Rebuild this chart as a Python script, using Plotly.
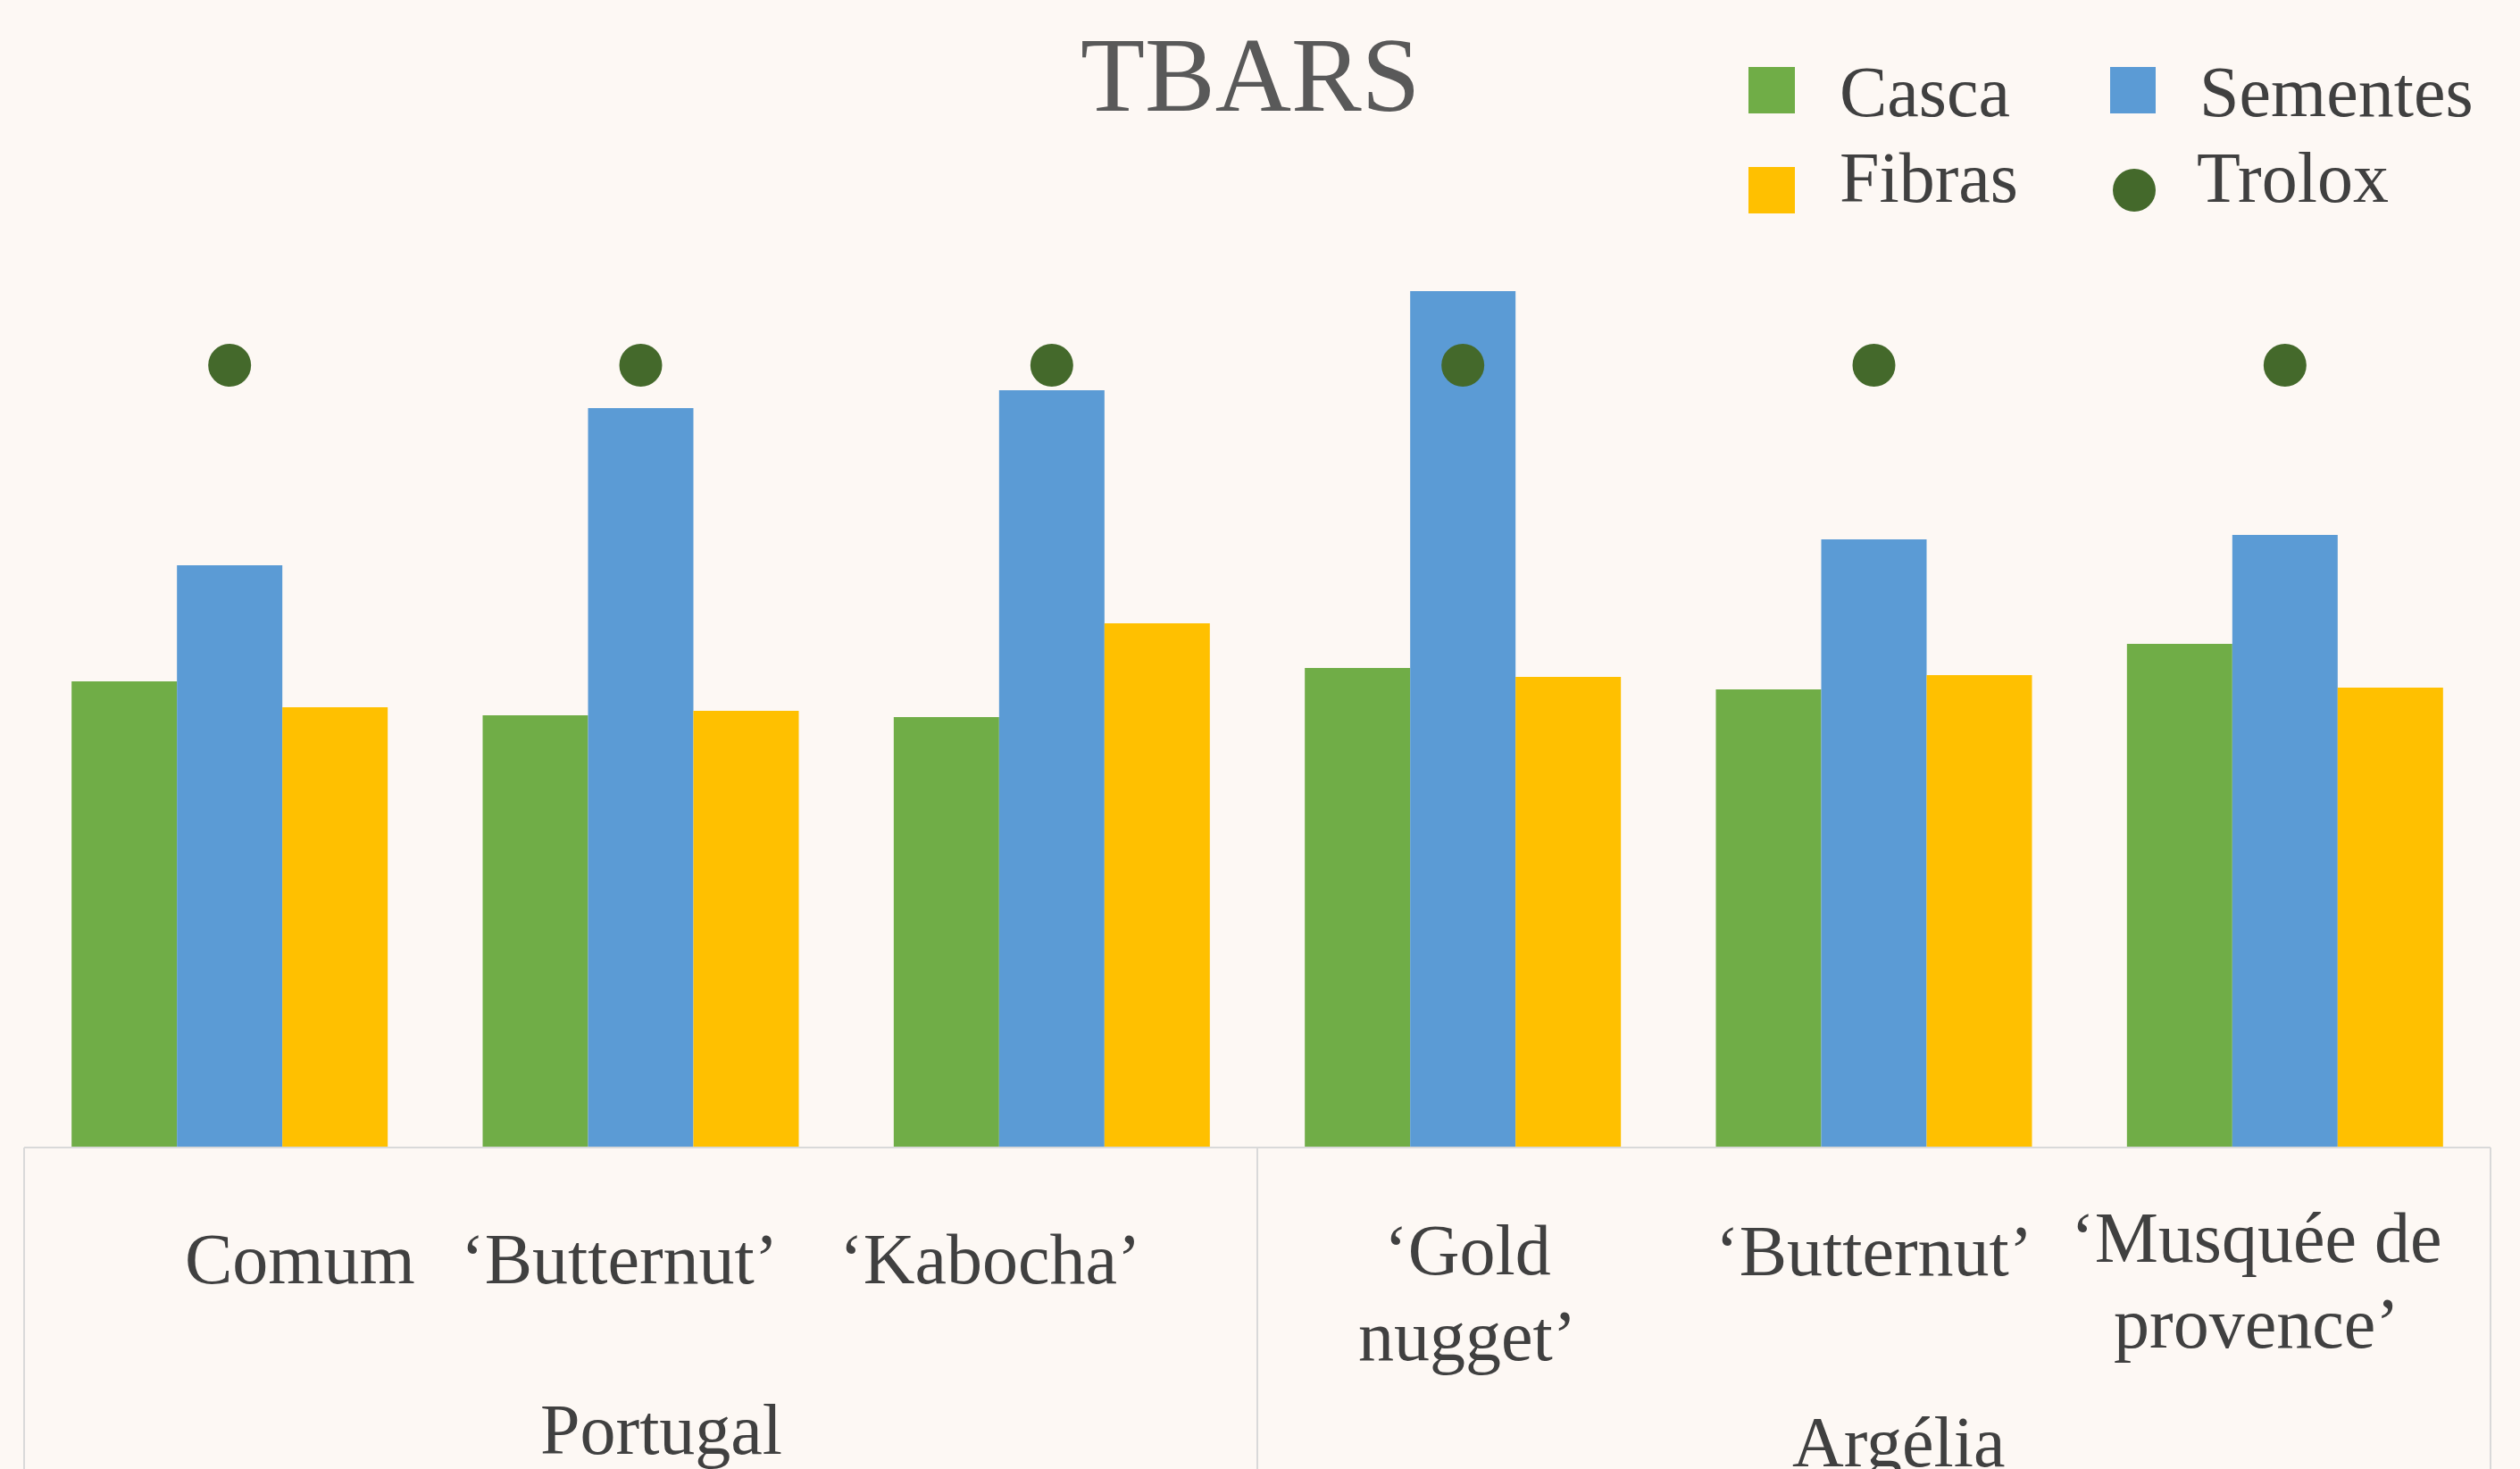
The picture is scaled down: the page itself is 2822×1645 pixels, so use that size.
import plotly.graph_objects as go

# ---------------- data ----------------
countries = ["Portugal", "Portugal", "Portugal", "Argélia", "Argélia", "Argélia"]
varieties = ["Comum", "‘Butternut’", "‘Kabocha’", "‘Gold<br>nugget’", "‘Butternut’", "‘Musquée de<br>provence’"]
groups = ["Portugal", "Argélia"]

casca = [5.22, 4.84, 4.82, 5.37, 5.13, 5.64]
sementes = [6.52, 8.28, 8.48, 9.59, 6.81, 6.86]
fibras = [4.93, 4.89, 5.87, 5.27, 5.29, 5.15]
trolox = [8.76, 8.76, 8.76, 8.76, 8.76, 8.76]

series_names = ["Casca", "Sementes", "Fibras", "Trolox"]
title_text = "TBARS"

# ---------------- style ----------------
W, H = 2822, 1645
L, R, T, B = 27, 33, 300, 360
PW, PH = W - L - R, H - T - B
BASE = H - B
YMAX = 9.85

BG = "#FDF8F4"
C_GREEN = "#70AD47"
C_BLUE = "#5B9BD5"
C_YELLOW = "#FFC000"
C_DOT = "#44692B"
TXT = "#404040"
FONT = "Liberation Serif, Times New Roman, serif"
LINE = "#D9D9D9"


def px_x(px):
    return (px - L) / PW


def px_y(py):
    return (BASE - py) / PH


keys = [f"{c}|{v}" for c, v in zip(countries, varieties)]

fig = go.Figure()
for name, vals, col in zip(series_names[:3], [casca, sementes, fibras], [C_GREEN, C_BLUE, C_YELLOW]):
    fig.add_trace(go.Bar(x=keys, y=vals, name=name, marker=dict(color=col, line=dict(width=0))))
fig.add_trace(go.Scatter(x=keys, y=trolox, name=series_names[3], mode="markers",
                         marker=dict(color=C_DOT, size=48, symbol="circle", line=dict(width=0))))

annotations = []
shapes = []

# title
annotations.append(dict(text=title_text, xref="paper", yref="paper", x=px_x(1400), y=px_y(84),
                        xanchor="center", yanchor="middle", showarrow=False,
                        font=dict(family=FONT, size=118, color="#595959")))

# category labels
label_dx = [79, -24, -69, 5, 0, -32]
label_base = [1437, 1437, 1437, 1427, 1428, 1413]
line_gap = 96
for i, lab in enumerate(varieties):
    for j, line in enumerate(lab.split("<br>")):
        base = label_base[i] + j * line_gap
        annotations.append(dict(text=line, xref="x", yref="paper", x=i, xshift=label_dx[i],
                                y=px_y(base - 27), xanchor="center", yanchor="middle",
                                showarrow=False, font=dict(family=FONT, size=80, color=TXT)))

# group labels
group_cx = [740, 2126]
group_base = [1628, 1642]
for g, cx, bl in zip(groups, group_cx, group_base):
    annotations.append(dict(text=g, xref="paper", yref="paper", x=px_x(cx), y=px_y(bl - 27),
                            xanchor="center", yanchor="middle", showarrow=False,
                            font=dict(family=FONT, size=80, color=TXT)))

# axis line and dividers
shapes.append(dict(type="line", xref="paper", yref="paper", x0=0, x1=1, y0=0, y1=0,
                   line=dict(color=LINE, width=2)))
for xp in [0, 0.5, 1]:
    shapes.append(dict(type="line", xref="paper", yref="paper", x0=xp, x1=xp, y0=0, y1=px_y(H + 10),
                       line=dict(color=LINE, width=2)))

# manual legend
leg_items = [
    ("Casca", "rect", C_GREEN, (1958, 2010, 75, 127), 2058, 103),
    ("Sementes", "rect", C_BLUE, (2363, 2414, 75, 127), 2461, 103),
    ("Fibras", "rect", C_YELLOW, (1958, 2010, 187, 239), 2058, 199),
    ("Trolox", "circle", C_DOT, (2366, 2414, 189, 237), 2458, 199),
]
for name, kind, col, (x0, x1, y0, y1), tx, ty in leg_items:
    shapes.append(dict(type=kind, xref="paper", yref="paper", x0=px_x(x0), x1=px_x(x1),
                       y0=px_y(y1), y1=px_y(y0), fillcolor=col, line=dict(width=0)))
    annotations.append(dict(text=name, xref="paper", yref="paper", x=px_x(tx), y=px_y(ty),
                            xanchor="left", yanchor="middle", showarrow=False,
                            font=dict(family=FONT, size=80, color=TXT)))

fig.update_layout(
    width=W, height=H, autosize=False,
    margin=dict(l=L, r=R, t=T, b=B, pad=0),
    paper_bgcolor=BG, plot_bgcolor=BG,
    barmode="group", bargap=0.231, bargroupgap=0,
    showlegend=False,
    font=dict(family=FONT, color=TXT),
    annotations=annotations, shapes=shapes,
    xaxis=dict(type="category", range=[-0.5, 5.5], showticklabels=False, showgrid=False,
               zeroline=False, showline=False, ticks=""),
    yaxis=dict(range=[0, YMAX], showticklabels=False, showgrid=False, zeroline=False,
               showline=False, ticks=""),
)

fig.write_html("out.html", config={"displayModeBar": False},
               post_script="document.body.style.margin='0';document.body.style.overflow='hidden';")
